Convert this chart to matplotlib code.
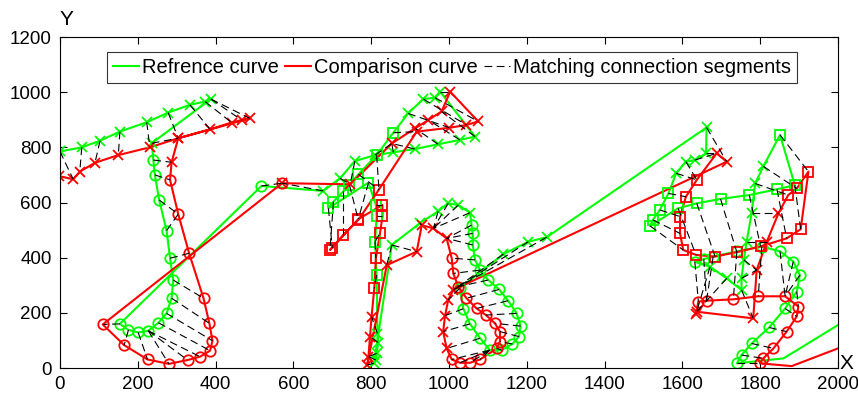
import numpy as np
import matplotlib.pyplot as plt

# strokes: (marker, xs, ys); the curve line runs through all strokes in order
ref_strokes = [
    ("x", [0, 56, 103, 154, 223, 278, 334, 373, 388, 236],
          [785, 800, 824, 857, 891, 926, 954, 966, 975, 815]),
    ("o", [240, 244, 255, 274, 283, 291, 287, 274, 253, 227, 201, 176, 154, 518],
          [754, 700, 609, 498, 398, 319, 253, 198, 164, 135, 129, 138, 160, 660]),
    ("x", [677, 720, 758, 810, 857, 912, 972, 1028, 1067, 977, 964, 934, 895],
          [642, 688, 750, 772, 782, 794, 811, 827, 839, 1002, 980, 975, 923]),
    ("s", [857, 814, 767, 744, 728, 703, 690, 793, 812, 814, 810, 814],
          [853, 772, 702, 664, 640, 603, 579, 672, 591, 550, 458, 337]),
    ("x", [816, 818, 814, 812, 807, 853, 925, 972, 998, 1024, 1054],
          [125, 92, 53, 29, 17, 446, 525, 568, 597, 591, 563]),
    ("o", [1058, 1061, 1061, 1067, 1080, 1101, 1129, 1152, 1174, 1184, 1180, 1163,
           1135, 1105, 1080, 1054, 1037, 1028],
          [518, 488, 446, 392, 355, 319, 285, 244, 198, 152, 114, 87,
           65, 65, 108, 160, 215, 290]),
    ("x", [1140, 1204, 1251, 1662, 1661, 1632, 1609, 1584],
          [413, 458, 474, 872, 778, 754, 748, 706]),
    ("s", [1564, 1542, 1524, 1517, 1589, 1637, 1698, 1772, 1843, 1889, 1851],
          [633, 573, 537, 515, 579, 597, 613, 627, 648, 663, 845]),
    ("x", [1808, 1787, 1778, 1765, 1758, 1752, 1752, 1714, 1671],
          [731, 669, 561, 458, 392, 325, 283, 325, 367]),
    ("o", [1632, 1655, 1679, 1740, 1804, 1851, 1885, 1902, 1894, 1864, 1823, 1778, 1752, 1740],
          [385, 395, 404, 423, 440, 423, 386, 337, 277, 216, 147, 89, 47, 17]),
]
ref_tail_x = [1860, 2100]
ref_tail_y = [35, 242]

cmp_strokes = [
    ("x", [-2, 34, 51, 90, 150, 231, 304, 386, 441, 467, 488, 304, 287],
          [696, 684, 712, 744, 772, 800, 833, 865, 890, 899, 905, 833, 746]),
    ("o", [283, 304, 332, 369, 384, 392, 386, 360, 328, 280, 225, 165, 110, 571],
          [682, 558, 416, 253, 162, 99, 63, 41, 29, 15, 31, 83, 158, 670]),
    ("x", [571, 746, 853, 913, 947, 981, 1003, 1075, 1045, 1001, 917],
          [670, 666, 814, 869, 899, 930, 1002, 894, 881, 871, 857]),
    ("s", [820, 767, 728, 694, 700, 767, 829, 829, 823, 812, 808],
          [647, 537, 482, 428, 436, 540, 591, 550, 491, 398, 289]),
    ("x", [801, 797, 793, 790, 840, 917, 930, 960, 994],
          [186, 114, 41, 11, 373, 422, 518, 506, 470]),
    ("o", [1007, 1011, 1024, 1045, 1071, 1095, 1118, 1131, 1131, 1123, 1080, 1054, 1028, 1007],
          [398, 343, 295, 253, 216, 192, 162, 132, 96, 71, 31, 19, 19, 31]),
    ("x", [994, 985, 990, 998, 1011, 1714, 1688],
          [71, 132, 190, 247, 283, 748, 778]),
    ("s", [1637, 1609, 1594, 1594, 1602, 1635, 1684, 1740, 1801, 1868, 1904, 1924, 1894, 1872],
          [682, 621, 549, 488, 428, 410, 404, 420, 441, 470, 503, 712, 651, 627]),
    ("x", [1847, 1817, 1791, 1782, 1637, 1635],
          [561, 458, 355, 180, 204, 196]),
    ("o", [1641, 1662, 1731, 1795, 1864, 1898, 1894, 1868, 1834, 1808, 1799],
          [241, 244, 249, 260, 260, 223, 187, 132, 71, 35, 17]),
]
cmp_tail_x = [1881, 2100]
cmp_tail_y = [7, 125]

x_ticks = np.arange(0, 2001, 200)
y_ticks = np.arange(0, 1201, 200)

GREEN = "#00ff00"
RED = "#ff0000"

plt.rcParams["font.family"] = ["Liberation Sans", "DejaVu Sans"]


def stack(strokes):
    xs = np.concatenate([np.array(s[1], float) for s in strokes])
    ys = np.concatenate([np.array(s[2], float) for s in strokes])
    return np.column_stack([xs, ys])


def dtw_path(a, b):
    n, m = len(a), len(b)
    d = np.linalg.norm(a[:, None, :] - b[None, :, :], axis=2)
    acc = np.full((n + 1, m + 1), np.inf)
    acc[0, 0] = 0
    for i in range(1, n + 1):
        for j in range(1, m + 1):
            acc[i, j] = d[i - 1, j - 1] + min(acc[i - 1, j], acc[i, j - 1], acc[i - 1, j - 1])
    i, j = n, m
    path = []
    while i > 0 and j > 0:
        path.append((i - 1, j - 1))
        k = np.argmin([acc[i - 1, j - 1], acc[i - 1, j], acc[i, j - 1]])
        if k == 0:
            i, j = i - 1, j - 1
        elif k == 1:
            i -= 1
        else:
            j -= 1
    return path[::-1]


ref_pts = stack(ref_strokes)
cmp_pts = stack(cmp_strokes)

fig = plt.figure(figsize=(8.58, 3.97), dpi=100)
ax = fig.add_axes([0.0699, 0.073, 0.9068, 0.8338])

# full polylines first, markers per stroke on top
ax.plot(np.r_[ref_pts[:, 0], ref_tail_x], np.r_[ref_pts[:, 1], ref_tail_y],
        color=GREEN, lw=1.5, label="Refrence curve")
ax.plot(np.r_[cmp_pts[:, 0], cmp_tail_x], np.r_[cmp_pts[:, 1], cmp_tail_y],
        color=RED, lw=1.5, label="Comparison curve")

for strokes, col in ((ref_strokes, GREEN), (cmp_strokes, RED)):
    for mk, xs, ys in strokes:
        ms = 6.5 if mk == "s" else 7.5
        ax.plot(xs, ys, ls="none", marker=mk, ms=ms, mfc="none", mec=col, mew=1.3)

first = True
for i, j in dtw_path(ref_pts, cmp_pts):
    ax.plot([ref_pts[i, 0], cmp_pts[j, 0]], [ref_pts[i, 1], cmp_pts[j, 1]],
            color="k", lw=0.8, ls=(0, (7, 4)),
            label="Matching connection segments" if first else None)
    first = False

ax.set_xlim(0, 2000)
ax.set_ylim(0, 1200)
ax.set_xticks(x_ticks)
ax.set_yticks(y_ticks)
ax.tick_params(direction="in", top=True, right=True, labelsize=13.5, length=5, width=0.8, pad=6)
for sp in ax.spines.values():
    sp.set_linewidth(0.8)
ax.text(1.002, 0.015, "X", transform=ax.transAxes, fontsize=15, va="center", ha="left")
ax.text(0.0, 1.025, "Y", transform=ax.transAxes, fontsize=15, va="bottom", ha="left")

leg = ax.legend(loc="upper center", bbox_to_anchor=(0.504, 0.985), ncol=3, fontsize=14.5,
                handlelength=1.3, handletextpad=0.15, columnspacing=0.3,
                frameon=True, fancybox=False, edgecolor="k", borderpad=0.3)
leg.get_frame().set_linewidth(0.8)

fig.savefig("out.png", dpi=100)
